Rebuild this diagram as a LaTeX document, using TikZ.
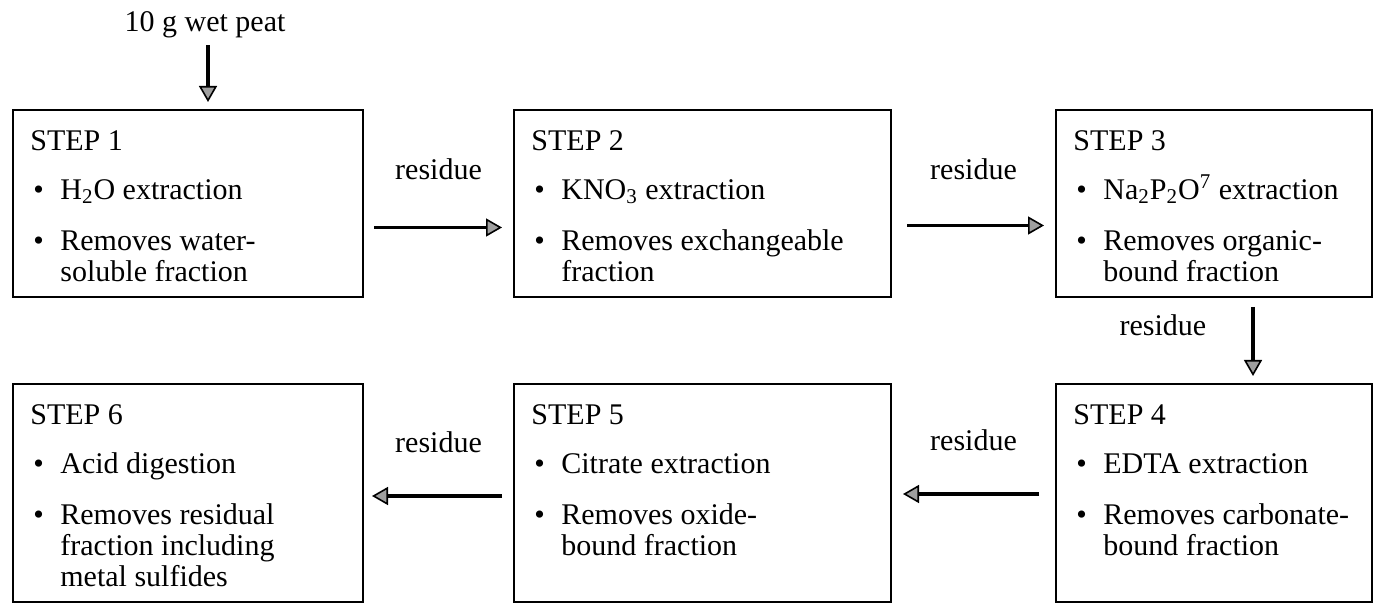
\documentclass[tikz,border=0pt]{standalone}
\usepackage{fontspec}
\setmainfont{Liberation Serif}
\usetikzlibrary{arrows.meta, positioning}
\newcommand{\bul}[1]{\makebox[15pt][l]{\hspace{1.5pt}\textbullet}#1}
\newcommand{\ind}{\hspace*{15pt}}
% one box text: title, first item, second item (lines split by \par)
\newcommand{\steptxt}[3]{\parbox[t]{170pt}{\rule{0pt}{20pt}#1\par\vspace{9pt}\bul{#2}\par\vspace{10pt}#3}}
\tikzset{
  stepbox/.style={
    rectangle, draw=black, line width=1pt,
    inner sep=0pt, outer sep=0pt, anchor=north west,
    minimum height=93.5pt,
  },
  steptext/.style={
    anchor=north west, inner sep=0pt,
    font=\fontsize{15}{15.5}\selectfont,
  },
  flow/.style={-{Triangle[length=8pt,width=9pt,fill=gray!75,line width=0.8pt]}, line width=1.8pt, color=black},
  lbl/.style={inner sep=0pt, font=\fontsize{15}{15.5}\selectfont},
}
\begin{document}
\begin{tikzpicture}[x=0.5pt,y=-0.5pt]
  \useasboundingbox (0,0) rectangle (1374,603);
  \node[lbl,anchor=base] (peat) at (205,32) {10 g wet peat};
  % top row
  \node[stepbox,minimum width=175pt] (s1) at (13,110) {};
  \node[stepbox,minimum width=188.5pt,right=75.5pt of s1.north east,anchor=north west] (s2) {};
  \node[stepbox,minimum width=158pt,right=82.5pt of s2.north east,anchor=north west] (s3) {};
  % bottom row
  \node[stepbox,minimum width=158pt,minimum height=109pt,below=43.5pt of s3.south east,anchor=north east] (s4) {};
  \node[stepbox,minimum width=188.5pt,minimum height=109pt,left=82.5pt of s4.north west,anchor=north east] (s5) {};
  \node[stepbox,minimum width=175pt,minimum height=109pt,left=75.5pt of s5.north west,anchor=north east] (s6) {};
  % box texts
  \node[steptext] (t1) at ([xshift=8.5pt]s1.north west) {\steptxt{STEP 1}{H\textsubscript{2}O extraction}{\bul{Removes water-}\par\ind soluble fraction}};
  \node[steptext] (t2) at ([xshift=8.5pt]s2.north west) {\steptxt{STEP 2}{KNO\textsubscript{3} extraction}{\bul{Removes exchangeable}\par\ind fraction}};
  \node[steptext] (t3) at ([xshift=8.5pt]s3.north west) {\steptxt{STEP 3}{Na\textsubscript{2}P\textsubscript{2}O\textsuperscript{7} extraction}{\bul{Removes organic-}\par\ind bound fraction}};
  \node[steptext] (t4) at ([xshift=8.5pt]s4.north west) {\steptxt{STEP 4}{EDTA extraction}{\bul{Removes carbonate-}\par\ind bound fraction}};
  \node[steptext] (t5) at ([xshift=8.5pt]s5.north west) {\steptxt{STEP 5}{Citrate extraction}{\bul{Removes oxide-}\par\ind bound fraction}};
  \node[steptext] (t6) at ([xshift=8.5pt]s6.north west) {\steptxt{STEP 6}{Acid digestion}{\bul{Removes residual}\par\ind fraction including\par\ind metal sulfides}};
  % connectors
  \draw[flow,shorten <=3.25pt,shorten >=4pt] ([xshift=1.5pt]peat.south)--([xshift=1.5pt]peat.south |- s1.north);
  \draw[flow,shorten <=5.5pt,shorten >=6pt] ([yshift=-12pt]s1.east)--node[lbl,above=23pt] (r1) {residue}([yshift=-12pt]s2.west);
  \draw[flow,shorten <=8pt,shorten >=6pt] ([yshift=-11pt]s2.east)--node[lbl,above=22pt] (r2) {residue}([yshift=-11pt]s3.west);
  \draw[flow,shorten <=5pt,shorten >=4pt] ([xshift=19.5pt]s3.south)--node[lbl,pos=0.33,left=22.5pt] (r3) {residue}([xshift=19.5pt]s3.south |- s4.north);
  \draw[flow,shorten <=8.5pt,shorten >=6pt] ([yshift=-0.5pt]s4.west)--node[lbl,above=20.5pt] (r4) {residue}([yshift=-0.5pt]s5.east);
  \draw[flow,shorten <=6pt,shorten >=4.5pt] ([yshift=-1.5pt]s5.west)--node[lbl,above=20.5pt] (r5) {residue}([yshift=-1.5pt]s6.east);
\end{tikzpicture}
\end{document}
